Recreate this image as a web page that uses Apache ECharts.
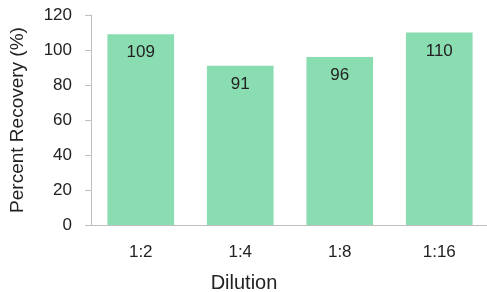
<!DOCTYPE html>
<html><head><meta charset="utf-8">
<script src="https://cdn.jsdelivr.net/npm/echarts@6/dist/echarts.min.js"></script>
<style>html,body{margin:0;padding:0;background:#fff}#c{width:487px;height:292px}</style>
</head><body><div id="c"></div>
<script>
var categories = ['1:2', '1:4', '1:8', '1:16'];
var recovery = [109, 91, 96, 110];
var yTicks = [0, 20, 40, 60, 80, 100, 120];

var chart = echarts.init(document.getElementById('c'), null, {renderer: 'canvas'});
var font = 'Liberation Sans, Arial, sans-serif';
chart.setOption({
  animation: false,
  grid: {left: 91, top: 15, width: 398, bottom: 67, containLabel: false, outerBoundsMode: 'none'},
  xAxis: {
    type: 'category', data: categories,
    axisLine: {lineStyle: {color: '#bfbfbf', width: 1}},
    axisTick: {show: false},
    axisLabel: {color: '#222', fontSize: 17, fontFamily: font, margin: 19},
    name: 'Dilution', nameLocation: 'middle', nameGap: 48,
    nameTextStyle: {color: '#222', fontSize: 20, fontFamily: font, padding: [0, 92, 0, 0]}
  },
  yAxis: {
    type: 'value', min: yTicks[0], max: yTicks[yTicks.length - 1], interval: 20,
    axisLine: {show: true, lineStyle: {color: '#bfbfbf', width: 1}},
    axisTick: {show: true, length: 6, lineStyle: {color: '#bfbfbf'}},
    splitLine: {show: false},
    axisLabel: {color: '#222', fontSize: 17, fontFamily: font, margin: 19},
    name: 'Percent Recovery (%)', nameLocation: 'middle', nameGap: 64,
    nameTextStyle: {color: '#222', fontSize: 19, fontFamily: font}
  },
  series: [{
    type: 'bar', data: recovery, barCategoryGap: '33%',
    itemStyle: {color: '#8adcb1'},
    label: {show: true, position: 'insideTop', distance: 10, color: '#222', fontSize: 17, fontFamily: font}
  }]
});
</script></body></html>
